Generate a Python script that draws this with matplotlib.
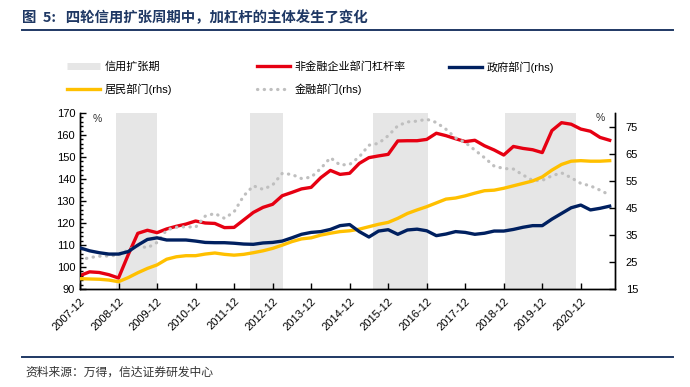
import matplotlib
matplotlib.use("Agg")
import matplotlib.pyplot as plt
from matplotlib.lines import Line2D
from matplotlib.ticker import MultipleLocator

plt.rcParams["font.family"] = ["Liberation Sans", "Noto Sans CJK SC"]

# 季度数据: 2007-12 ~ 2021-09
corp = [96.1, 97.8, 97.5, 96.5, 95.0, 105.5, 115.3, 116.7, 115.6, 117.3,
        118.5, 119.5, 120.9, 120.0, 119.8, 117.9, 118.0, 121.4, 124.8, 127.1,
        128.5, 132.4, 133.9, 135.5, 136.2, 140.6, 143.9, 142.1, 142.6, 147.1,
        149.7, 150.5, 151.2, 157.3, 157.4, 157.4, 158.0, 160.8, 159.7, 158.3,
        157.0, 157.6, 155.1, 153.2, 150.9, 154.8, 153.9, 153.3, 152.0, 162.0,
        165.6, 164.9, 162.7, 161.7, 158.9, 157.6]
gov = [30.2, 29.1, 28.4, 27.9, 27.9, 28.8, 31.2, 33.3, 33.9, 33.1,
       33.1, 33.1, 32.7, 32.2, 32.1, 32.1, 31.9, 31.6, 31.5, 32.0,
       32.2, 32.7, 33.9, 35.2, 35.9, 36.2, 37.0, 38.4, 38.8, 36.2,
       34.2, 36.4, 36.9, 35.2, 36.8, 37.1, 36.5, 34.7, 35.3, 36.2,
       35.9, 35.2, 35.6, 36.4, 36.4, 37.0, 37.8, 38.4, 38.4, 40.8,
       42.9, 45.0, 46.0, 44.2, 44.8, 45.6]
household = [18.8, 18.7, 18.6, 18.3, 17.7, 19.2, 21.0, 22.6, 23.9, 26.0,
             26.9, 27.3, 27.3, 27.9, 28.3, 27.8, 27.5, 27.8, 28.4, 29.1,
             30.0, 31.2, 32.5, 33.5, 33.9, 34.9, 35.6, 36.2, 36.5, 37.1,
             38.0, 38.9, 39.6, 41.1, 42.9, 44.2, 45.4, 46.8, 48.2, 48.6,
             49.4, 50.4, 51.3, 51.5, 52.2, 53.1, 54.0, 54.9, 56.4, 58.9,
             61.0, 62.2, 62.4, 62.2, 62.2, 62.4]
financial = [25.7, 26.6, 27.1, 27.2, 27.5, 29.4, 31.0, 30.2, 32.2, 36.8,
             37.8, 38.0, 37.8, 41.9, 42.9, 41.1, 43.5, 49.4, 53.1, 51.8,
             53.4, 57.7, 57.3, 55.8, 56.3, 59.5, 63.5, 60.8, 61.0, 63.8,
             68.1, 68.8, 71.6, 75.3, 76.7, 77.0, 77.7, 76.5, 74.0, 70.8,
             69.1, 66.3, 63.5, 60.4, 59.5, 59.3, 57.1, 55.1, 55.1, 56.8,
             57.9, 56.1, 54.0, 53.1, 51.5, 49.7]

# 信用扩张期 (季度序号)
expansion_start = [3.75, 17.7, 30.4, 44.1]
expansion_end = [8.0, 21.1, 36.1, 51.5]

year_labels = [f"{y}-12" for y in range(2007, 2021)]

RED = "#E60012"
NAVY = "#002060"
YELLOW = "#FFC000"
GRAY = "#BFBFBF"
SHADE = "#E6E6E6"
TITLE_C = "#1F3864"

fig = plt.figure(figsize=(6.9, 3.87), dpi=100)
ax = fig.add_axes([80 / 690, 1 - 289 / 387, 534.5 / 690, 176 / 387])
ax2 = ax.twinx()

x = list(range(len(corp)))
for s, e in zip(expansion_start, expansion_end):
    ax.axvspan(s, e, color=SHADE, lw=0, zorder=0)

ax.plot(x, corp, color=RED, lw=2.4, zorder=3)
ax2.plot(x, financial, color=GRAY, lw=2.3, linestyle=(0, (0.1, 2.0)),
         dash_capstyle="round", zorder=2)
ax2.plot(x, household, color=YELLOW, lw=2.4, zorder=3)
ax2.plot(x, gov, color=NAVY, lw=2.4, zorder=4)

ax.set_xlim(0, 55.5)
ax.set_ylim(90, 170)
ax2.set_ylim(15, 80)
ax.yaxis.set_major_locator(MultipleLocator(10))
ax.yaxis.set_minor_locator(MultipleLocator(2))
ax2.set_yticks(range(15, 80, 10))
ax.set_xticks(range(0, 4 * len(year_labels), 4))
ax.set_xticklabels(year_labels, rotation=45, ha="right", va="top",
                   rotation_mode="anchor")

for a in (ax, ax2):
    a.spines["top"].set_visible(False)
    for sp in ("left", "right", "bottom"):
        a.spines[sp].set_linewidth(1.0)
        a.spines[sp].set_color("black")
ax.tick_params(axis="both", which="both", direction="in", labelsize=8)
ax.tick_params(axis="both", which="major", length=4, width=1)
ax.tick_params(axis="y", which="minor", length=2.5, width=1)
ax.tick_params(axis="x", pad=5)
ax2.tick_params(axis="y", direction="in", length=4, width=1, labelsize=8, pad=8)

ax.text(0.033, 0.965, "%", transform=ax.transAxes, fontsize=7.5,
        ha="center", va="center", color="#333333")
ax.text(0.973, 0.97, "%", transform=ax.transAxes, fontsize=7.5,
        ha="center", va="center", color="#333333")

# 图例
entries = [
    (Line2D([], [], color=SHADE, lw=5, solid_capstyle="butt"), "信用扩张期", 67, 67),
    (Line2D([], [], color=RED, lw=2.4), "非金融企业部门杠杆率", 257, 67),
    (Line2D([], [], color=NAVY, lw=2.4), "政府部门(rhs)", 449, 67),
    (Line2D([], [], color=YELLOW, lw=2.4), "居民部门(rhs)", 67, 89),
    (Line2D([], [], color=GRAY, lw=2.3, linestyle=(0, (0.1, 2.0)),
            dash_capstyle="round"), "金融部门(rhs)", 257, 89),
]
for h, lab, px, py in entries:
    fig.legend([h], [lab], loc="center left",
               bbox_to_anchor=(px / 690, 1 - py / 387), frameon=False,
               fontsize=8, handlelength=3.0, handletextpad=0.4,
               borderpad=0, borderaxespad=0)

fig.text(22 / 690, 1 - 18 / 387, "图  5:   四轮信用扩张周期中，加杠杆的主体发生了变化",
         fontsize=10.4, fontweight="bold", color=TITLE_C, va="center", ha="left",
         family=["Noto Sans CJK SC", "Liberation Sans"])
fig.add_artist(Line2D([22 / 690, 673 / 690], [1 - 29.5 / 387, 1 - 29.5 / 387],
                      color=TITLE_C, lw=1.4))
fig.add_artist(Line2D([22 / 690, 673 / 690], [1 - 357 / 387, 1 - 357 / 387],
                      color=TITLE_C, lw=1.4))
fig.text(25 / 690, 1 - 372 / 387, "资料来源：万得，信达证券研发中心",
         fontsize=8.5, color="#333333", va="center", ha="left", style="italic",
         family=["Noto Sans CJK SC", "Liberation Sans"])

fig.savefig("out.png", dpi=100)
